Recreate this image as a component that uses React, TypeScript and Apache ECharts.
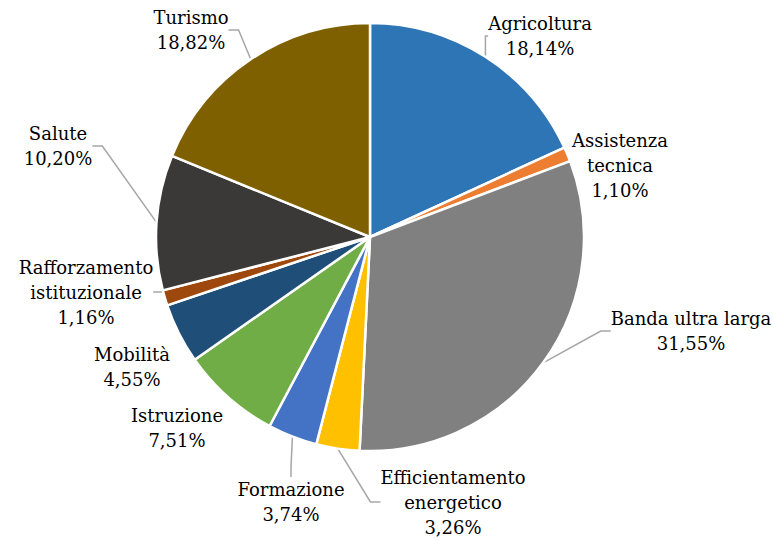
import React, { useEffect, useRef } from "react";
import * as echarts from "echarts";

const categories = [
  "Agricoltura",
  "Assistenza tecnica",
  "Banda ultra larga",
  "Efficientamento energetico",
  "Formazione",
  "Istruzione",
  "Mobilità",
  "Rafforzamento istituzionale",
  "Salute",
  "Turismo",
];
const labelNames = [
  "Agricoltura",
  "Assistenza\ntecnica",
  "Banda ultra larga",
  "Efficientamento\nenergetico",
  "Formazione",
  "Istruzione",
  "Mobilità",
  "Rafforzamento\nistituzionale",
  "Salute",
  "Turismo",
];
const values = [18.14, 1.1, 31.55, 3.26, 3.74, 7.51, 4.55, 1.16, 10.2, 18.82];
const colors = [
  "#2E75B6",
  "#ED7D31",
  "#808080",
  "#FFC000",
  "#4472C4",
  "#70AD47",
  "#1F4E79",
  "#9E480E",
  "#3B3838",
  "#7F6000",
];
const showLine = [true, false, true, true, true, false, false, true, true, true];
// label centre positions (text layout only)
const labelPos: [number, number][] = [
  [540, 36],
  [620, 165],
  [691, 331],
  [453, 502],
  [291, 502],
  [177, 428],
  [132, 367],
  [86, 292],
  [58, 146],
  [191, 30],
];

export default function App() {
  const ref = useRef<HTMLDivElement>(null);
  useEffect(() => {
    if (!ref.current) return;
    const chart = echarts.init(ref.current, null, { renderer: "svg" });
    chart.setOption({
      animation: false,
      backgroundColor: "#ffffff",
      series: [
        {
          type: "pie",
          center: [370, 237],
          radius: 214,
          startAngle: 90,
          clockwise: true,
          avoidLabelOverlap: false,
          itemStyle: { borderColor: "#ffffff", borderWidth: 2.5 },
          label: {
            show: true,
            position: "outside",
            fontFamily: "DejaVu Serif",
            fontSize: 18,
            lineHeight: 25,
            color: "#000000",
            align: "center",
            formatter: (p: any) =>
              labelNames[p.dataIndex] + "\n" + values[p.dataIndex].toFixed(2).replace(".", ",") + "%",
          },
          labelLine: {
            show: true,
            length: 10,
            length2: 10,
            lineStyle: { color: "#A6A6A6", width: 1.5 },
          },
          labelLayout: (params: any) => {
            const i = params.dataIndex;
            return {
              x: labelPos[i][0],
              y: labelPos[i][1],
              align: "center",
              verticalAlign: "middle",
            };
          },
          data: categories.map((c, i) => ({
            name: c,
            value: values[i],
            itemStyle: { color: colors[i] },
            labelLine: { show: showLine[i] },
          })),
        },
      ],
    });
    return () => chart.dispose();
  }, []);
  return (
    <div
      ref={ref}
      style={{ position: "absolute", left: 0, top: 0, width: 773, height: 540 }}
    />
  );
}
